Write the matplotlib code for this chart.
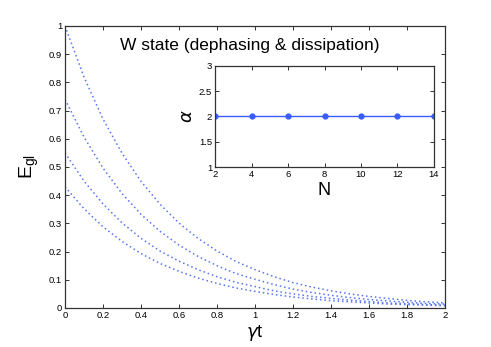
import matplotlib.pyplot as plt

# gamma*t grid and the four decay curves
gt = [0.0, 0.1, 0.2, 0.3, 0.4, 0.5, 0.6, 0.7, 0.8, 0.9, 1.0,
      1.1, 1.2, 1.3, 1.4, 1.5, 1.6, 1.7, 1.8, 1.9, 2.0]
e_gl_1 = [1.000, 0.819, 0.670, 0.549, 0.449, 0.368, 0.301, 0.247, 0.202,
          0.165, 0.136, 0.111, 0.090, 0.074, 0.061, 0.050, 0.041, 0.034,
          0.027, 0.022, 0.018]
e_gl_2 = [0.740, 0.606, 0.496, 0.406, 0.332, 0.272, 0.223, 0.183, 0.150,
          0.122, 0.102, 0.083, 0.067, 0.055, 0.045, 0.037, 0.030, 0.025,
          0.020, 0.016, 0.014]
e_gl_3 = [0.550, 0.450, 0.369, 0.302, 0.247, 0.202, 0.166, 0.136, 0.111,
          0.091, 0.076, 0.061, 0.050, 0.041, 0.034, 0.028, 0.023, 0.018,
          0.015, 0.012, 0.010]
e_gl_4 = [0.430, 0.352, 0.288, 0.236, 0.193, 0.158, 0.130, 0.106, 0.087,
          0.071, 0.059, 0.048, 0.039, 0.032, 0.026, 0.022, 0.018, 0.014,
          0.012, 0.010, 0.008]

# inset data
n_vals = [2, 4, 6, 8, 10, 12, 14]
alpha_vals = [2, 2, 2, 2, 2, 2, 2]

x_ticks = [0, 0.2, 0.4, 0.6, 0.8, 1, 1.2, 1.4, 1.6, 1.8, 2]
x_labels = ["0", "0.2", "0.4", "0.6", "0.8", "1", "1.2", "1.4", "1.6",
            "1.8", "2"]
y_ticks = [0, 0.1, 0.2, 0.3, 0.4, 0.5, 0.6, 0.7, 0.8, 0.9, 1]
y_labels = ["0", "0.1", "0.2", "0.3", "0.4", "0.5", "0.6", "0.7", "0.8",
            "0.9", "1"]
in_y_ticks = [1, 1.5, 2, 2.5, 3]
in_y_labels = ["1", "1.5", "2", "2.5", "3"]


def style_axes(ax):
    for sp in ax.spines.values():
        sp.set_color("#333333")
        sp.set_linewidth(0.9)
    ax.tick_params(direction="in", top=True, right=True, length=3,
                   width=0.7, labelsize=6.8, pad=2, colors="#333333",
                   labelcolor="black")


def main():
    plt.rcParams["font.family"] = ["Liberation Sans", "DejaVu Sans"]
    blue = "#3a5cff"

    fig = plt.figure(figsize=(4.91, 3.47), dpi=100)
    ax = fig.add_axes([0.1324, 0.1124, 0.7739, 0.8127])
    for curve in [e_gl_1, e_gl_2, e_gl_3, e_gl_4]:
        ax.plot(gt, curve, linestyle=(0, (1.0, 1.9)), color="#5575f5",
                linewidth=1.1)
    ax.set_xlim(0, 2)
    ax.set_ylim(0, 1)
    ax.set_xticks(x_ticks, x_labels)
    ax.set_yticks(y_ticks, y_labels)
    style_axes(ax)
    ax.set_xlabel(r"$\gamma$t", fontsize=13, labelpad=2)
    ax.set_ylabel(r"E$_{\mathregular{gl}}$", fontsize=14, labelpad=6)
    fig.text(0.509, 0.868, "W state (dephasing & dissipation)",
             fontsize=12.5, ha="center", va="center")

    ins = fig.add_axes([0.4379, 0.5187, 0.446, 0.292])
    ins.plot(n_vals, alpha_vals, color=blue, linewidth=1.0, marker="o",
             markersize=3.5)
    ins.set_xlim(2, 14)
    ins.set_ylim(1, 3)
    ins.set_xticks(n_vals)
    ins.set_yticks(in_y_ticks, in_y_labels)
    style_axes(ins)
    ins.set_xlabel("N", fontsize=13, labelpad=2)
    ins.set_ylabel(r"$\alpha$", fontsize=13, labelpad=2)

    fig.savefig("out.png", dpi=100)


if __name__ == "__main__":
    main()
